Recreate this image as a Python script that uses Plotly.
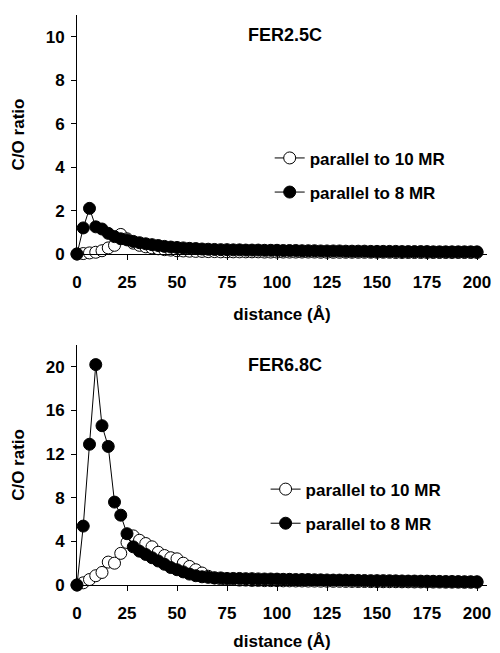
import plotly.graph_objects as go
from plotly.subplots import make_subplots

# ---------------- data ----------------
distance = [0, 3.125, 6.25, 9.375, 12.5, 15.625, 18.75, 21.875, 25, 28.125,
            31.25, 34.375, 37.5, 40.625, 43.75, 46.875, 50, 53.125, 56.25, 59.375,
            62.5, 65.625, 68.75, 71.875, 75, 78.125, 81.25, 84.375, 87.5, 90.625,
            93.75, 96.875, 100, 103.125, 106.25, 109.375, 112.5, 115.625, 118.75, 121.875,
            125, 128.125, 131.25, 134.375, 137.5, 140.625, 143.75, 146.875, 150, 153.125,
            156.25, 159.375, 162.5, 165.625, 168.75, 171.875, 175, 178.125, 181.25, 184.375,
            187.5, 190.625, 193.75, 196.875, 200]

# FER2.5C
top_10mr = [0, 0.02, 0.05, 0.08, 0.15, 0.28, 0.4, 0.9, 0.7, 0.5,
            0.4, 0.33, 0.28, 0.24, 0.2, 0.18, 0.15, 0.14, 0.13, 0.12,
            0.12, 0.11, 0.11, 0.1, 0.1, 0.1, 0.1, 0.1, 0.1, 0.1,
            0.09, 0.09, 0.09, 0.09, 0.09, 0.09, 0.09, 0.09, 0.09, 0.08,
            0.08, 0.08, 0.08, 0.08, 0.08, 0.08, 0.08, 0.08, 0.08, 0.08,
            0.08, 0.07, 0.07, 0.07, 0.07, 0.07, 0.07, 0.07, 0.07, 0.07,
            0.07, 0.07, 0.07, 0.07, 0.07]
top_8mr = [0, 1.2, 2.1, 1.25, 1.15, 0.95, 0.8, 0.7, 0.65, 0.58,
           0.52, 0.47, 0.43, 0.39, 0.35, 0.32, 0.3, 0.28, 0.26, 0.25,
           0.23, 0.22, 0.21, 0.2, 0.2, 0.19, 0.19, 0.18, 0.18, 0.18,
           0.17, 0.17, 0.17, 0.16, 0.16, 0.16, 0.15, 0.15, 0.15, 0.14,
           0.14, 0.14, 0.14, 0.13, 0.13, 0.13, 0.13, 0.12, 0.12, 0.12,
           0.12, 0.12, 0.11, 0.11, 0.11, 0.11, 0.11, 0.1, 0.1, 0.1,
           0.1, 0.1, 0.1, 0.1, 0.1]

# FER6.8C
bot_10mr = [0, 0.2, 0.5, 0.85, 1.15, 2.1, 2.0, 2.9, 3.9, 4.5,
            4.1, 3.8, 3.5, 3.0, 2.7, 2.5, 2.4, 2.0, 1.7, 1.4,
            1.1, 0.8, 0.65, 0.55, 0.5, 0.5, 0.45, 0.45, 0.42, 0.42,
            0.4, 0.4, 0.4, 0.38, 0.38, 0.37, 0.37, 0.36, 0.36, 0.35,
            0.35, 0.34, 0.34, 0.33, 0.33, 0.32, 0.32, 0.31, 0.31, 0.3,
            0.3, 0.3, 0.29, 0.29, 0.28, 0.28, 0.28, 0.27, 0.27, 0.26,
            0.26, 0.26, 0.25, 0.25, 0.25]
bot_8mr = [0, 5.4, 12.9, 20.2, 14.6, 12.7, 7.6, 6.4, 4.7, 3.5,
           3.1, 2.8, 2.5, 2.2, 1.9, 1.6, 1.4, 1.2, 1.0, 0.85,
           0.75, 0.7, 0.65, 0.65, 0.6, 0.6, 0.6, 0.58, 0.58, 0.56,
           0.55, 0.55, 0.54, 0.52, 0.52, 0.5, 0.5, 0.5, 0.48, 0.47,
           0.46, 0.45, 0.45, 0.44, 0.43, 0.42, 0.41, 0.4, 0.4, 0.4,
           0.39, 0.38, 0.37, 0.36, 0.36, 0.35, 0.35, 0.34, 0.33, 0.32,
           0.32, 0.31, 0.3, 0.3, 0.3]

series_names = ["parallel to 10 MR", "parallel to 8 MR"]
panel_titles = ["FER2.5C", "FER6.8C"]
x_ticks = [0, 25, 50, 75, 100, 125, 150, 175, 200]
y_ticks_top = [0, 2, 4, 6, 8, 10]
y_ticks_bot = [0, 4, 8, 12, 16, 20]

FONT = "Liberation Sans, Arial, sans-serif"

fig = make_subplots(rows=2, cols=1, vertical_spacing=0.15)


def add_pair(row, y_open, y_filled, legend):
    fig.add_trace(go.Scatter(
        x=distance, y=y_open, mode="lines+markers", name=series_names[0],
        line=dict(color="black", width=1),
        marker=dict(symbol="circle", size=12, color="white",
                    line=dict(color="black", width=1)),
        cliponaxis=False, legend=legend, legendgroup=legend + "a"),
        row=row, col=1)
    fig.add_trace(go.Scatter(
        x=distance, y=y_filled, mode="lines+markers", name=series_names[1],
        line=dict(color="black", width=1),
        marker=dict(symbol="circle", size=12, color="black",
                    line=dict(color="black", width=1)),
        cliponaxis=False, legend=legend, legendgroup=legend + "b"),
        row=row, col=1)


add_pair(1, top_10mr, top_8mr, "legend")
add_pair(2, bot_10mr, bot_8mr, "legend2")

axis_common = dict(showline=True, linecolor="black", linewidth=1,
                   ticks="outside", ticklen=5, tickwidth=1, tickcolor="black",
                   showgrid=False, zeroline=False, automargin=False,
                   tickfont=dict(family=FONT, size=17, color="black", weight="bold"))

title_font = dict(family=FONT, size=17, color="black", weight="bold")

fig.update_xaxes(**axis_common, range=[0, 205], tickvals=x_ticks,
                 ticklabelstandoff=8)
fig.update_xaxes(title=dict(text="distance (Å)", standoff=16, font=title_font), row=1, col=1)
fig.update_xaxes(title=dict(text="distance (Å)", standoff=12, font=title_font), row=2, col=1)
fig.update_yaxes(**axis_common, ticklabelstandoff=3,
                 title=dict(text="C/O ratio", standoff=16, font=title_font))

fig.update_yaxes(range=[0, 11], tickvals=y_ticks_top, domain=[0.5807, 1], row=1, col=1)
fig.update_yaxes(range=[0, 22], tickvals=y_ticks_bot, domain=[0, 0.4211], row=2, col=1)

legend_common = dict(xanchor="left", yanchor="top", bgcolor="rgba(0,0,0,0)",
                     borderwidth=0, tracegroupgap=9,
                     font=dict(family=FONT, size=17, color="black", weight="bold"))

# the page body adds an 8 px offset, so margins are reduced by 8 px on the top/left
fig.update_layout(
    width=500, height=653,
    margin=dict(l=69, r=21, t=7, b=76, autoexpand=False),
    paper_bgcolor="white", plot_bgcolor="white",
    font=dict(family=FONT, color="black"),
    showlegend=True,
    legend=dict(**legend_common, x=0.47, y=0.78),
    legend2=dict(**legend_common, x=0.46, y=0.199),
    annotations=[
        dict(text=panel_titles[0], xref="paper", yref="paper", x=0.507, y=0.965,
             showarrow=False, xanchor="center", yanchor="middle",
             font=dict(family=FONT, size=18, color="black", weight="bold")),
        dict(text=panel_titles[1], xref="paper", yref="paper", x=0.507, y=0.386,
             showarrow=False, xanchor="center", yanchor="middle",
             font=dict(family=FONT, size=18, color="black", weight="bold")),
    ],
)

fig.write_html("out.html")
